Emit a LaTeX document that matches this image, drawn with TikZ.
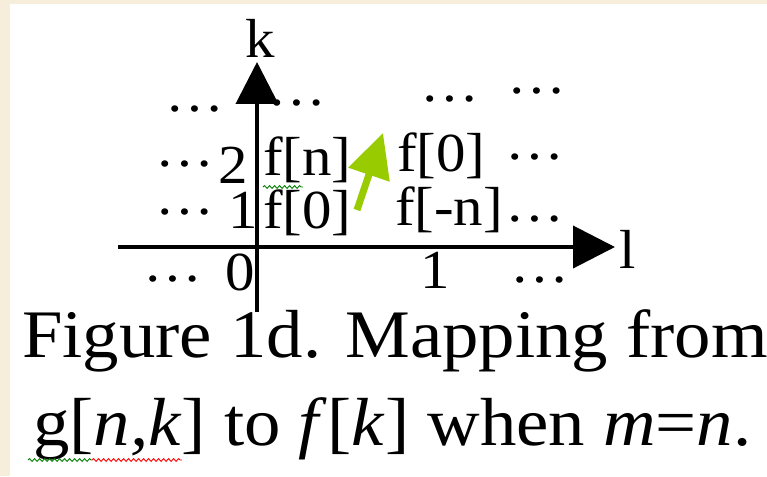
\documentclass[tikz,border=0pt]{standalone}
\usepackage{fontspec}
\setmainfont{Liberation Serif}[FakeStretch=1.07]
\usetikzlibrary{arrows.meta,decorations.pathmorphing}

\definecolor{paper}{RGB}{246,237,219}
\definecolor{hintgreen}{RGB}{153,204,0}

\tikzset{
  lbl/.style={font=\fontsize{55}{60}\selectfont, inner sep=0pt},
  captext/.style={font=\fontsize{68}{80}\selectfont, inner sep=0pt},
  axis/.style={line width=4pt, -{Triangle[length=42pt,width=42pt]}},
  hint/.style={hintgreen, line width=7pt, -{Triangle[length=44pt,width=42pt]}},
  squiggle/.style={line width=0.9pt, decorate,
    decoration={snake, amplitude=1.4pt, segment length=5pt}}
}

\begin{document}
\begin{tikzpicture}[x=1pt, y=-1pt]
  \useasboundingbox (0,0) rectangle (767,476);
  \fill[paper] (0,0) rectangle (767,476);
  \fill[white] (10,4) rectangle (767,476);

  % dots round the grid
  \node[lbl, anchor=base] (dtl) at (195,111) {…};
  \node[lbl, anchor=base] (dtk) at (297,106) {…};
  \node[lbl, anchor=base] (dtm) at (450,102) {…};
  \node[lbl, anchor=base] (dtr) at (537,94) {…};
  \node[lbl, anchor=base] (dul) at (185,166) {…};
  \node[lbl, anchor=base] (dur) at (535,159) {…};
  \node[lbl, anchor=base] (dml) at (185,214) {…};
  \node[lbl, anchor=base] (dmr) at (535,221) {…};
  \node[lbl, anchor=base] (dbl) at (173,281) {…};
  \node[lbl, anchor=base] (dbr) at (540,282) {…};

  % tick labels
  \node[lbl, anchor=base] (ktwo) at (233,183) {2};
  \node[lbl, anchor=base] (kone) at (243,228) {1};
  \node[lbl, anchor=base] (lzero) at (240,290) {0};
  \node[lbl, anchor=base] (lone) at (435,288) {1};

  % samples
  \node[lbl, anchor=base west] (fn) at (263,175) {f[n]};
  \node[lbl, anchor=base west] (fz) at (263,228) {f[0]};
  \node[lbl, anchor=base west] (fzr) at (397,171) {f[0]};
  \node[lbl, anchor=base west] (fmn) at (395,225) {f[-n]};

  % axes
  \coordinate (lstart) at (118,247);
  \coordinate (lend) at (615,247);
  \coordinate (kstart) at (257,312);
  \coordinate (kend) at (257,62);
  \draw[axis] (lstart) -- (lend);
  \draw[axis] (kstart) -- (kend);
  \node[lbl, anchor=base] (klab) at (260,58) {k};
  \node[lbl, anchor=base west] (llab) at (619,268) {l};

  % green hint arrow
  \coordinate (gs) at (357,210);
  \coordinate (gt) at (383,133);
  \draw[hint] (gs) -- (gt);

  % caption
  \node[captext, anchor=base west] (capa) at (22,357) {Figure 1d. Mapping from};
  \node[captext, anchor=base west] (capb) at (33,445)
    {g[\textit{n,k}] to \textit{f}[\textit{k}] when \textit{m}=\textit{n}.};

  % spell-check marks
  \draw[squiggle, green!50!black] (263,187) -- (303,187);
  \draw[squiggle, green!50!black] (28,460) -- (92,460);
  \draw[squiggle, red] (92,460) -- (182,460);
\end{tikzpicture}
\end{document}
